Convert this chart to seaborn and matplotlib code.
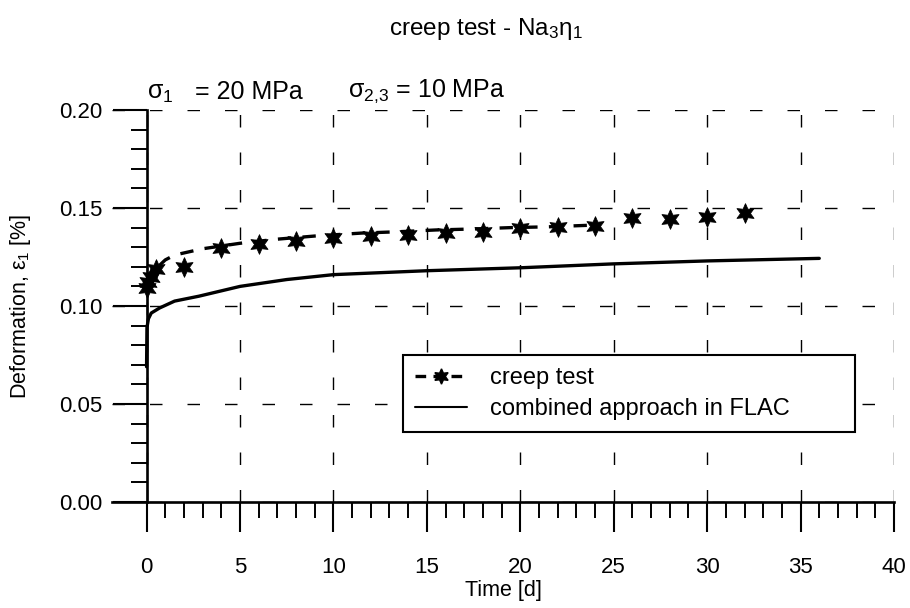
import numpy as np
import pandas as pd
import matplotlib
matplotlib.use("Agg")
import matplotlib.pyplot as plt
from matplotlib.ticker import MultipleLocator, FixedLocator, FormatStrFormatter
from matplotlib.lines import Line2D
import seaborn as sns

# ---- data ----
test_t = [0, 0.05, 0.25, 0.5, 2, 4, 6, 8, 10, 12, 14, 16, 18, 20, 22, 24, 26, 28, 30, 32]
test_eps = [0.109, 0.112, 0.115, 0.119, 0.120, 0.1294, 0.1316, 0.1333, 0.1345, 0.1357,
            0.1362, 0.1370, 0.1379, 0.1396, 0.1404, 0.1407, 0.1447, 0.1442, 0.1455, 0.1472]

trend_t = [0, 0.25, 0.5, 1, 1.5, 3, 5, 7, 9, 11.5, 13.5, 15.5, 17.5, 19.5, 21.5, 24]
trend_eps = [0.110, 0.1149, 0.119, 0.1235, 0.126, 0.1292, 0.132, 0.1341, 0.1357, 0.1372,
             0.1379, 0.1388, 0.1393, 0.1400, 0.1404, 0.1413]

flac_t = [0, 0.02, 0.1, 0.25, 0.7, 1.5, 2.8, 5, 7.5, 10, 15, 20, 25, 30, 36]
flac_eps = [0.069, 0.089, 0.0935, 0.0964, 0.0990, 0.1025, 0.1050, 0.1100, 0.1135,
            0.1160, 0.1180, 0.1195, 0.1215, 0.1230, 0.1243]

x_major = [0, 5, 10, 15, 20, 25, 30, 35, 40]
y_major = [0.00, 0.05, 0.10, 0.15, 0.20]

title = r"creep test - $\mathregular{Na_3\eta_1}$"
legend_labels = ["creep test", "combined approach in FLAC"]

# ---- style ----
sns.set_style("ticks")
plt.rcParams["font.family"] = ["Liberation Sans", "DejaVu Sans"]
plt.rcParams["mathtext.fontset"] = "custom"
plt.rcParams["mathtext.rm"] = "Liberation Sans"
plt.rcParams["mathtext.it"] = "Liberation Sans:italic"
plt.rcParams["mathtext.bf"] = "Liberation Sans:bold"
plt.rcParams["mathtext.default"] = "regular"
plt.rcParams["text.color"] = "black"
plt.rcParams["axes.labelcolor"] = "black"
plt.rcParams["xtick.color"] = "black"
plt.rcParams["ytick.color"] = "black"
plt.rcParams["axes.edgecolor"] = "black"

fig = plt.figure(figsize=(9.1, 6.08), dpi=100)
ax = fig.add_axes([112 / 910, 1 - 502 / 608, 782 / 910, 392 / 608])

df_test = pd.DataFrame({"t": test_t, "eps": test_eps})
df_trend = pd.DataFrame({"t": trend_t, "eps": trend_eps})
df_flac = pd.DataFrame({"t": flac_t, "eps": flac_eps})

sns.lineplot(data=df_flac, x="t", y="eps", ax=ax, color="black", lw=2.4,
             estimator=None, sort=False, zorder=3)
sns.lineplot(data=df_trend, x="t", y="eps", ax=ax, color="black", lw=2.4,
             linestyle=(0, (4, 3.4)), estimator=None, sort=False, zorder=3)
sns.scatterplot(data=df_test, x="t", y="eps", ax=ax, color="black", marker=(6, 1, 0),
                s=200, edgecolor="black", linewidth=0.6, zorder=4)

ax.set_xlim(-1.85, 40)
ax.set_ylim(0, 0.20)

for side in ["top", "right"]:
    ax.spines[side].set_visible(False)
ax.spines["left"].set_position(("data", 0))
ax.spines["left"].set_linewidth(1.9)
ax.spines["bottom"].set_linewidth(1.9)

ax.xaxis.set_major_locator(FixedLocator(x_major))
ax.xaxis.set_minor_locator(FixedLocator(np.arange(1, 40)))
ax.yaxis.set_major_locator(FixedLocator(y_major))
ax.yaxis.set_minor_locator(MultipleLocator(0.01))
ax.yaxis.set_major_formatter(FormatStrFormatter("%.2f"))

ax.tick_params(axis="x", which="major", direction="out", length=21.5, width=1.5,
               pad=18, labelsize=16, colors="black")
ax.tick_params(axis="x", which="minor", direction="out", length=11.5, width=1.4)
ax.tick_params(axis="y", which="major", direction="out", length=24.5, width=1.5,
               pad=7, labelsize=16, colors="black")
ax.tick_params(axis="y", which="minor", direction="out", length=11.5, width=1.4)

ax.set_axisbelow(True)
ax.grid(True, which="major", color="black", lw=1.0, linestyle=(0, (9, 18)))

ax.set_xlabel("Time [d]", fontsize=15.5)
ax.set_ylabel(r"Deformation, $\mathregular{\varepsilon_1}$ [%]", fontsize=15.5)
ax.xaxis.set_label_coords(0.5, -0.198)
ax.yaxis.set_label_coords(-0.101, 0.5)

# title and stress annotation
fig.text(486 / 910, 1 - 29 / 608, title, ha="center", va="center", fontsize=17.5)
fig.text(147 / 910, 1 - 105 / 608, r"$\mathregular{\sigma_1}$", ha="left", va="bottom", fontsize=18)
fig.text(195 / 910, 1 - 104 / 608, "= 20 MPa", ha="left", va="bottom", fontsize=18)
fig.text(348 / 910, 1 - 105 / 608, r"$\mathregular{\sigma_{2{,}3}}$ = 10 MPa", ha="left",
         va="bottom", fontsize=18)

# legend
h1 = Line2D([], [], color="black", lw=2.4, linestyle=(0, (3.2, 2.2)), marker=(6, 1, 0),
            markersize=11, markerfacecolor="black", markeredgecolor="black")
h2 = Line2D([], [], color="black", lw=1.5)
leg = ax.legend([h1, h2], legend_labels, loc="upper left",
                bbox_to_anchor=(0.372, 0.1505, 0.578, 0.2245), mode="expand",
                fontsize=17, frameon=True, fancybox=False, shadow=False,
                borderpad=0.5, labelspacing=0.4, handlelength=2.2, handletextpad=1.0,
                numpoints=1, borderaxespad=0)
leg.get_frame().set_edgecolor("black")
leg.get_frame().set_linewidth(1.5)
leg.get_frame().set_alpha(1)

fig.savefig("out.png", dpi=100)
